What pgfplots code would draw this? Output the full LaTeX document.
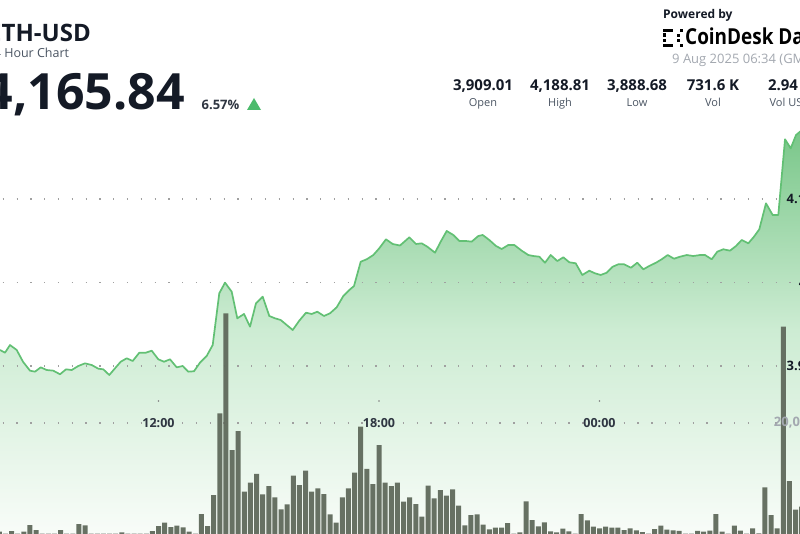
\documentclass[border=0pt]{standalone}
\usepackage{pgfplots}
\pgfplotsset{compat=1.18}
\usepackage{pgfplotstable}
\usepackage{fontspec}
\setmainfont{Open Sans}
\newcommand{\fs}[1]{\fontsize{#1}{#1}\selectfont}
\definecolor{ink}{HTML}{141A26}
\definecolor{slate}{HTML}{2F3642}
\definecolor{grayt}{HTML}{4B5563}
\definecolor{lightgrayt}{HTML}{A3A8B0}
\definecolor{linegreen}{RGB}{98,192,116}
\definecolor{bargray}{RGB}{96,106,92}
\definecolor{tri}{RGB}{76,187,108}
\definecolor{dotgray}{RGB}{160,160,160}
\definecolor{areaTop}{RGB}{120,198,136}
\definecolor{areaMid}{RGB}{205,236,211}
\definecolor{areaBot}{RGB}{248,252,248}

\pgfplotstableread{
h p
7.687 3919.2
7.823 3915.9
7.959 3925.1
8.141 3919.2
8.313 3905.1
8.503 3894.4
8.639 3893.2
8.795 3898.4
8.958 3895.2
9.137 3894.4
9.320 3890.1
9.483 3896.0
9.638 3895.2
9.818 3900.0
10.000 3903.2
10.182 3901.2
10.362 3896.8
10.498 3896.0
10.661 3889.2
10.816 3897.2
10.971 3905.1
11.135 3909.2
11.298 3906.0
11.477 3915.9
11.652 3915.9
11.815 3918.3
11.995 3908.0
12.150 3905.1
12.313 3908.0
12.495 3898.4
12.659 3900.0
12.811 3893.2
12.966 3893.7
13.129 3904.0
13.311 3912.0
13.475 3925.1
13.654 3987.1
13.810 3999.8
13.992 3989.0
14.144 3957.1
14.327 3962.3
14.490 3947.1
14.653 3975.1
14.835 3983.0
15.015 3959.9
15.170 3957.1
15.325 3955.1
15.488 3949.1
15.652 3943.1
15.831 3954.3
16.014 3963.8
16.169 3962.3
16.321 3965.0
16.503 3959.9
16.667 3963.1
16.849 3970.3
17.029 3983.8
17.192 3991.0
17.320 3995.8
17.502 4024.9
17.665 4027.8
17.845 4032.9
18.008 4041.0
18.190 4051.7
18.373 4046.1
18.571 4044.3
18.825 4054.1
19.007 4046.1
19.162 4046.9
19.314 4042.9
19.524 4035.7
19.679 4048.9
19.842 4061.7
20.022 4056.9
20.185 4049.7
20.367 4049.7
20.522 4048.9
20.702 4055.7
20.822 4056.9
21.001 4050.9
21.184 4043.7
21.339 4040.1
21.518 4044.9
21.682 4044.9
21.883 4038.1
22.063 4032.9
22.199 4031.7
22.362 4030.9
22.517 4023.7
22.672 4032.9
22.852 4025.7
23.015 4030.2
23.178 4024.2
23.352 4023.0
23.532 4009.0
23.722 4014.1
23.877 4011.0
24.032 4009.0
24.196 4011.7
24.359 4018.9
24.511 4021.8
24.667 4021.8
24.857 4017.7
25.028 4023.7
25.192 4015.8
25.355 4019.8
25.537 4023.7
25.692 4027.8
25.856 4032.9
26.027 4028.5
26.190 4030.9
26.373 4032.9
26.552 4031.7
26.735 4032.9
26.871 4032.9
27.053 4027.8
27.205 4036.9
27.369 4039.8
27.551 4038.1
27.714 4043.7
27.869 4050.9
28.049 4046.9
28.204 4054.9
28.348 4063.7
28.530 4094.8
28.713 4080.8
28.865 4080.8
29.048 4171.5
29.203 4160.7
29.347 4176.6
29.456 4180.6
29.600 4186.0
29.750 4172.0
}\pricedata

\pgfplotstableread{
slot vol
46 589
47 250
48 714
49 250
50 589
51 1786
52 893
53 250
54 250
55 250
56 893
57 250
58 250
59 1965
60 1732
61 250
62 250
63 250
64 250
65 250
66 482
67 250
68 250
69 250
70 250
71 714
72 1607
73 2197
74 1429
75 1697
76 1375
77 589
78 250
79 3751
80 1607
81 7144
82 21736
83 39596
84 15181
85 18574
86 7733
87 9341
88 10895
89 7269
90 8751
91 6733
92 4590
93 5483
94 10591
95 8930
96 11484
97 7733
98 8341
99 7323
100 3697
101 2197
102 6733
103 8341
104 11127
105 19342
106 11788
107 9109
108 16074
109 9341
110 8751
111 9341
112 5947
113 6733
114 5537
115 3268
116 8805
117 6555
118 8037
119 7019
120 8162
121 5233
122 1732
123 3572
124 3697
125 1840
126 1018
127 1304
128 1304
129 2143
130 250
131 482
132 6019
133 2679
134 1554
135 2268
136 661
137 482
138 1125
139 661
140 250
141 3751
142 2625
143 1482
144 1197
145 1518
146 1304
147 1304
148 893
149 1197
150 839
151 536
152 250
153 1036
154 1661
155 964
156 839
157 750
158 250
159 250
160 750
161 589
162 768
163 3751
164 589
165 250
166 1697
167 768
168 250
169 1197
170 300
171 8519
172 3572
173 1197
174 37203
175 9644
176 4554
177 5054
}\voldata

\begin{document}
\begin{tikzpicture}
\path[use as bounding box] (0pt,0pt) rectangle (800pt,533pt);
\clip (0pt,0pt) rectangle (800pt,533pt);
\fill[white] (0pt,0pt) rectangle (800pt,533pt);

% price axis
\begin{axis}[at={(0pt,0pt)}, anchor=south west, scale only axis,
  width=800pt, height=533pt,
  xmin=7.68707, xmax=29.45578, ymin=3700, ymax=4338.32,
  axis lines=none, ticks=none]
\addplot[draw=none, top color=areaTop, bottom color=areaBot, middle color=areaMid]
  table[x=h, y=p] {\pricedata} \closedcycle;
\draw[dotgray, line width=1.3pt, dash pattern=on 1.3pt off 12.5pt]
  (axis cs:7.7606,4100) -- (axis cs:28.95,4100);
\draw[dotgray, line width=1.3pt, dash pattern=on 1.3pt off 12.5pt]
  (axis cs:7.7606,4000) -- (axis cs:29.40,4000);
\draw[dotgray, line width=1.3pt, dash pattern=on 1.3pt off 12.5pt]
  (axis cs:7.7606,3900) -- (axis cs:28.95,3900);
\addplot[linegreen, line width=1.7pt, line join=round, mark=none]
  table[x=h, y=p] {\pricedata};
\end{axis}

% volume axis
\begin{axis}[at={(0pt,-2pt)}, anchor=south west, scale only axis,
  width=800pt, height=535pt,
  xmin=46.1224, xmax=176.7347, ymin=0, ymax=95551,
  axis lines=none, ticks=none]
\draw[dotgray, line width=1.3pt, dash pattern=on 1.3pt off 12.5pt]
  (axis cs:46.55,20000) -- (axis cs:173.6,20000);
\addplot[ybar, bar width=5pt, fill=bargray, draw=none, fill opacity=0.95]
  table[x=slot, y=vol] {\voldata};
\fill[dotgray!80!black] (axis cs:72,23932) circle (0.9pt);
\fill[dotgray!80!black] (axis cs:108,23932) circle (0.9pt);
\fill[dotgray!80!black] (axis cs:144,23932) circle (0.9pt);
\node[font=\fs{12.5}\bfseries, text=slate, inner sep=0pt] at (axis cs:72,20000) {12:00};
\node[font=\fs{12.5}\bfseries, text=slate, inner sep=0pt] at (axis cs:108,20000) {18:00};
\node[font=\fs{12.5}\bfseries, text=slate, inner sep=0pt] at (axis cs:144,20000) {00:00};
\end{axis}

% right-side value labels
\node[anchor=east, inner sep=0pt, font=\fs{13}\bfseries, text=ink] at (814pt,334pt) {4.1K};
\node[anchor=east, inner sep=0pt, font=\fs{13}\bfseries, text=ink] at (815pt,250pt) {4K};
\node[anchor=east, inner sep=0pt, font=\fs{13}\bfseries, text=ink] at (814pt,167pt) {3.9K};
\node[anchor=east, inner sep=0pt, font=\fs{13}\bfseries, text=lightgrayt] at (815pt,110pt) {20,000};

% header left
\node[anchor=base east, inner sep=0pt, font=\fs{24}\bfseries, text=ink] at (91pt,491.3pt) {ETH-USD};
\node[anchor=base east, inner sep=0pt, font=\fs{12.5}, text=grayt] at (69.3pt,475.3pt) {24 Hour Chart};
\node[anchor=base east, inner sep=0pt, font=\fs{50}\bfseries, text=ink] at (185pt,423pt) {4,165.84};
\node[anchor=base east, inner sep=0pt, font=\fs{13}\bfseries, text=slate] at (239.5pt,423.7pt) {6.57\%};
\fill[tri] (247pt,423pt) -- (261pt,423pt) -- (254pt,435pt) -- cycle;

% header right
\node[anchor=base west, inner sep=0pt, font=\fs{12}\bfseries, text=ink] at (663pt,514.7pt) {Powered by};
\fill[black] (663pt,501pt) rectangle (673pt,504pt);
\fill[black] (663pt,486pt) rectangle (673pt,489pt);
\fill[black] (663pt,496pt) rectangle (666pt,499.5pt);
\fill[black] (663pt,490.5pt) rectangle (666pt,494pt);
\fill[black] (677pt,496pt) rectangle (680pt,499pt);
\fill[black] (677pt,490.5pt) rectangle (680pt,493.5pt);
\fill[black] (680pt,501pt) rectangle (683pt,504pt);
\fill[black] (680pt,486pt) rectangle (683pt,489pt);
\node[anchor=base west, inner sep=0pt, font=\fs{22}\bfseries, text=black] at (685pt,488pt) {\scalebox{0.86}[1]{CoinDesk Data}};
\node[anchor=base west, inner sep=0pt, font=\fs{13}, text=lightgrayt] at (672pt,469.5pt) {9 Aug 2025 06:34 (GMT)};

\foreach \cx/\val/\lab in {483/{3,909.01}/Open, 560/{4,188.81}/High, 637/{3,888.68}/Low, 713/{731.6 K}/Vol, 790/{2.94 B}/{Vol USD}} {
  \node[anchor=base, inner sep=0pt, font=\fs{15}\bfseries, text=ink] at (\cx pt,442.4pt) {\val};
  \node[anchor=base, inner sep=0pt, font=\fs{11}, text=grayt] at (\cx pt,426pt) {\lab};
}
\end{tikzpicture}
\end{document}
